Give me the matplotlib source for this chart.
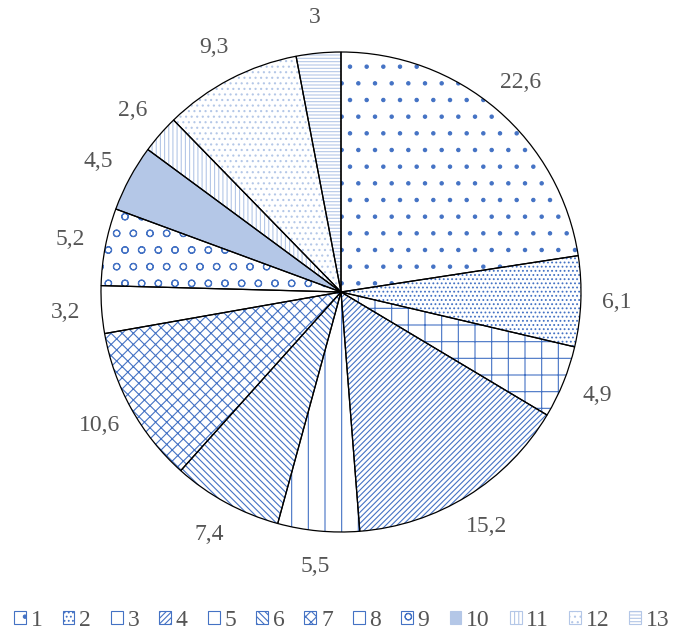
import matplotlib.pyplot as plt
from matplotlib.patches import Patch

# Shares per category (clockwise from 12 o'clock)
categories = ["1", "2", "3", "4", "5", "6", "7", "8", "9", "10", "11", "12", "13"]
values = [22.6, 6.1, 4.9, 15.2, 5.5, 7.4, 10.6, 3.2, 5.2, 4.5, 2.6, 9.3, 3.0]
value_labels = ["22,6", "6,1", "4,9", "15,2", "5,5", "7,4", "10,6",
                "3,2", "5,2", "4,5", "2,6", "9,3", "3"]

# Fill styles
blue = "#4472C4"
light = "#B4C7E7"
hatches = [".", "....", "+", "//////", "|", "\\\\\\\\\\", "xxx", "",
           "o", "", "||||", "...", "-----"]
hatch_colors = [blue, blue, blue, blue, blue, blue, blue, blue,
                blue, light, light, light, light]
face_colors = ["white"] * 9 + [light, "white", "white", "white"]

plt.rcParams["font.family"] = ["Liberation Serif", "DejaVu Serif"]
plt.rcParams["hatch.linewidth"] = 0.8
text_color = "#555555"

fig = plt.figure(figsize=(6.77, 6.32), dpi=100)
lim = 1.4
ax = fig.add_axes([5 / 677, 4 / 632, 672 / 677, 672 / 632])

# hatched fill layer
wedges, _ = ax.pie(values, startangle=90, counterclock=False, radius=1,
                   colors=face_colors)
for w, h, hc in zip(wedges, hatches, hatch_colors):
    w.set_hatch(h)
    w.set_edgecolor(hc)
    w.set_linewidth(0)

# outline layer with labels
outline, texts = ax.pie(values, startangle=90, counterclock=False, radius=1,
                        labels=value_labels, labeldistance=1.15,
                        wedgeprops=dict(facecolor="none", edgecolor="black",
                                        linewidth=0.9),
                        textprops=dict(fontsize=17, color=text_color))
for t in texts:
    t.set_horizontalalignment("center")
    t.set_verticalalignment("center")

ax.set_xlim(-lim, lim)
ax.set_ylim(-lim, lim)
ax.set_aspect("equal")
ax.axis("off")

handles = [Patch(facecolor=fc, edgecolor=hc, hatch=h, linewidth=0.8)
           for fc, hc, h in zip(face_colors, hatch_colors, hatches)]
fig.legend(handles, categories, loc="center", bbox_to_anchor=(0.505, 0.018),
           ncol=13, frameon=False, fontsize=17, handlelength=0.5,
           handleheight=0.5, handletextpad=0.2, columnspacing=0.85,
           labelcolor=text_color)

fig.savefig("out.png", dpi=100)
